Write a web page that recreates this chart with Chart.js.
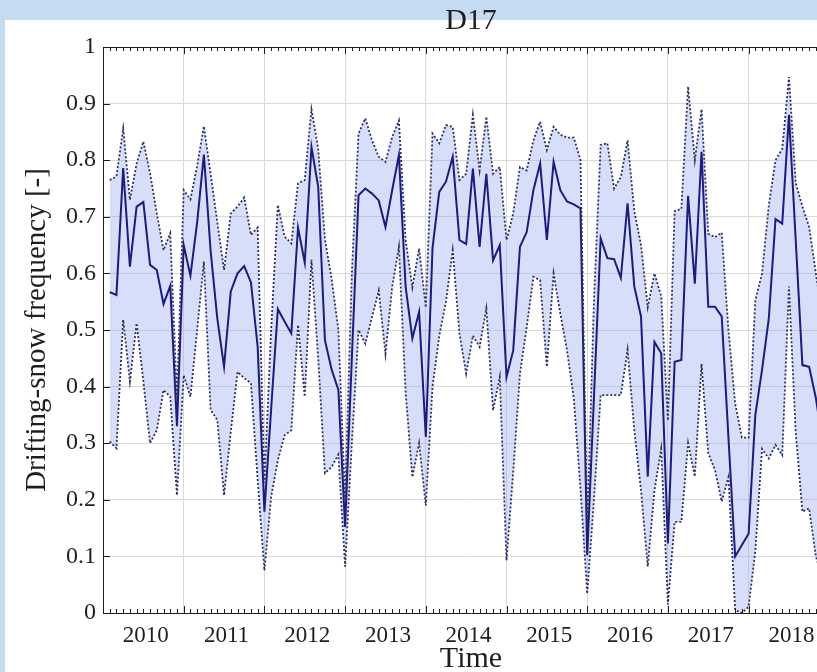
<!DOCTYPE html>
<html>
<head>
<meta charset="utf-8">
<script src="https://cdn.jsdelivr.net/npm/chart.js@4.4.1/dist/chart.umd.min.js"></script>
<style>
  html, body { margin: 0; padding: 0; width: 817px; height: 672px; overflow: hidden; background: #c4dbf1; }
  #paper { position: absolute; left: 5px; top: 20px; right: 0; bottom: 0; background: #ffffff; }
  #wrap { position: absolute; left: 0; top: 0; width: 850px; height: 672px; }
</style>
</head>
<body>
<div id="paper"></div>
<div id="wrap"><canvas id="c"></canvas></div>
<script>
// ---- data (monthly, starting Feb 2010) ----
const startYear = 2010;
const meanFreq = [
  0.567, 0.562, 0.786, 0.612, 0.718, 0.726, 0.615, 0.606, 0.546, 0.578,
  0.330, 0.650, 0.596, 0.690, 0.810, 0.640, 0.520, 0.435, 0.568, 0.600,
  0.613, 0.584, 0.470, 0.179, 0.360, 0.537, 0.515, 0.494, 0.681, 0.619,
  0.823, 0.753, 0.482, 0.430, 0.394, 0.152, 0.450, 0.738, 0.750, 0.741,
  0.729, 0.682, 0.747, 0.809, 0.576, 0.485, 0.532, 0.311, 0.645, 0.744,
  0.762, 0.806, 0.659, 0.652, 0.785, 0.647, 0.776, 0.623, 0.650, 0.417,
  0.464, 0.647, 0.673, 0.747, 0.794, 0.659, 0.797, 0.747, 0.727, 0.722,
  0.715, 0.102, 0.380, 0.662, 0.627, 0.625, 0.592, 0.724, 0.577, 0.524,
  0.241, 0.479, 0.459, 0.123, 0.444, 0.447, 0.737, 0.582, 0.815, 0.541,
  0.541, 0.524, 0.310, 0.100, 0.120, 0.140, 0.350, 0.430, 0.520, 0.696,
  0.688, 0.880, 0.660, 0.438, 0.435, 0.380, 0.300
];
const upperFreq = [
  0.765, 0.771, 0.856, 0.730, 0.794, 0.833, 0.777, 0.706, 0.641, 0.671,
  0.380, 0.747, 0.731, 0.790, 0.860, 0.776, 0.690, 0.606, 0.706, 0.718,
  0.734, 0.668, 0.681, 0.230, 0.500, 0.721, 0.665, 0.653, 0.759, 0.765,
  0.890, 0.820, 0.660, 0.590, 0.500, 0.200, 0.600, 0.847, 0.874, 0.835,
  0.806, 0.797, 0.841, 0.870, 0.659, 0.575, 0.644, 0.540, 0.847, 0.830,
  0.862, 0.859, 0.765, 0.776, 0.880, 0.782, 0.877, 0.776, 0.788, 0.659,
  0.706, 0.788, 0.782, 0.835, 0.868, 0.818, 0.859, 0.845, 0.840, 0.840,
  0.800, 0.150, 0.550, 0.827, 0.830, 0.750, 0.770, 0.835, 0.710, 0.650,
  0.540, 0.600, 0.560, 0.340, 0.710, 0.714, 0.930, 0.800, 0.890, 0.670,
  0.664, 0.672, 0.500, 0.370, 0.310, 0.310, 0.553, 0.600, 0.720, 0.800,
  0.820, 0.947, 0.760, 0.718, 0.682, 0.600, 0.520
];
const lowerFreq = [
  0.303, 0.291, 0.518, 0.409, 0.512, 0.410, 0.300, 0.323, 0.394, 0.382,
  0.208, 0.420, 0.382, 0.500, 0.621, 0.359, 0.341, 0.208, 0.320, 0.426,
  0.415, 0.406, 0.235, 0.075, 0.205, 0.270, 0.314, 0.323, 0.509, 0.382,
  0.624, 0.450, 0.247, 0.258, 0.280, 0.082, 0.300, 0.500, 0.476, 0.523,
  0.570, 0.458, 0.576, 0.647, 0.390, 0.240, 0.300, 0.190, 0.400, 0.490,
  0.550, 0.641, 0.494, 0.423, 0.490, 0.470, 0.538, 0.358, 0.417, 0.093,
  0.250, 0.423, 0.505, 0.594, 0.588, 0.435, 0.600, 0.529, 0.464, 0.380,
  0.220, 0.034, 0.200, 0.385, 0.385, 0.385, 0.385, 0.465, 0.323, 0.217,
  0.082, 0.217, 0.290, 0.015, 0.161, 0.161, 0.300, 0.241, 0.440, 0.282,
  0.253, 0.197, 0.240, 0.005, 0.000, 0.011, 0.110, 0.290, 0.273, 0.297,
  0.279, 0.577, 0.320, 0.179, 0.185, 0.100, 0.060
];
const xTickLabels = ['2010', '2011', '2012', '2013', '2014', '2015', '2016', '2017', '2018'];
const gridYears = [2011, 2012, 2013, 2014, 2015, 2016, 2017, 2018, 2019];
const yTickLabels = ['0', '0.1', '0.2', '0.3', '0.4', '0.5', '0.6', '0.7', '0.8', '0.9', '1'];
const xMin = 2010, xMax = 2019.12;

// time of each monthly value, in decimal years
const timeYears = meanFreq.map((_, i) => startYear + (i + 1) / 12);
const pts = arr => arr.map((v, i) => ({ x: timeYears[i], y: v }));

const SERIF = "'Liberation Serif', 'Times New Roman', serif";
const INK = '#1e1e1e';
const GRID = '#d9d9d9';

const edgeTicks = {
  id: 'edgeTicks',
  afterDraw(chart) {
    const { ctx, chartArea: a, scales } = chart;
    const sx = scales.x, sy = scales.y;
    ctx.save();
    ctx.strokeStyle = INK;
    ctx.lineWidth = 1;
    ctx.beginPath();
    for (let k = 0; k < 200; k++) {
      const v = xMin + k / 12;
      if (v > sx.max) break;
      const px = Math.round(sx.getPixelForValue(v)) + 0.5;
      const len = (k % 12 === 0) ? 7 : 4;
      ctx.moveTo(px, a.bottom); ctx.lineTo(px, a.bottom - len);
      ctx.moveTo(px, a.top); ctx.lineTo(px, a.top + len);
    }
    sy.ticks.forEach(t => {
      const py = Math.round(sy.getPixelForValue(t.value)) + 0.5;
      ctx.moveTo(a.left, py); ctx.lineTo(a.left + 7, py);
    });
    ctx.stroke();
    ctx.restore();
  }
};

new Chart(document.getElementById('c'), {
  type: 'line',
  data: {
    datasets: [
      {
        label: 'upper',
        data: pts(upperFreq),
        borderColor: '#2e2e5e',
        borderWidth: 1.8,
        borderDash: [2, 2],
        pointRadius: 0,
        fill: '+1',
        backgroundColor: 'rgba(150, 168, 242, 0.38)',
        tension: 0
      },
      {
        label: 'lower',
        data: pts(lowerFreq),
        borderColor: '#2e2e5e',
        borderWidth: 1.8,
        borderDash: [2, 2],
        pointRadius: 0,
        fill: false,
        tension: 0
      },
      {
        label: 'mean',
        data: pts(meanFreq),
        borderColor: '#1c1c7c',
        borderWidth: 2,
        pointRadius: 0,
        fill: false,
        tension: 0
      }
    ]
  },
  options: {
    responsive: true,
    maintainAspectRatio: false,
    devicePixelRatio: 1,
    animation: false,
    layout: { padding: { left: 0, right: 11, top: 0, bottom: 0 } },
    plugins: {
      legend: { display: false },
      tooltip: { enabled: false },
      filler: { drawTime: 'beforeDatasetsDraw' }
    },
    scales: {
      x: {
        type: 'linear',
        position: 'bottom',
        min: xMin,
        max: xMax,
        afterBuildTicks: s => { s.ticks = xTickLabels.map(l => ({ value: Number(l) + 0.53 })); },
        afterFit: s => { s.height = 59; },
        ticks: {
          autoSkip: false,
          maxRotation: 0,
          padding: 9,
          color: INK,
          font: { family: SERIF, size: 23 },
          callback: (v, i) => xTickLabels[i]
        },
        grid: { display: true, drawOnChartArea: false, drawTicks: false },
        border: { display: true, color: INK, width: 1 },
        title: {
          display: true,
          text: 'Time',
          color: INK,
          font: { family: SERIF, size: 30, lineHeight: 1 },
          padding: { top: 0, bottom: -2 }
        }
      },
      x2: {
        type: 'linear',
        position: 'top',
        min: xMin,
        max: xMax,
        afterBuildTicks: s => { s.ticks = gridYears.map(v => ({ value: v })); },
        afterFit: s => { s.height = 47; },
        ticks: { display: false },
        grid: { display: true, color: GRID, lineWidth: 1, drawTicks: false },
        border: { display: true, color: INK, width: 1 },
        title: {
          display: true,
          text: 'D17',
          color: INK,
          font: { family: SERIF, size: 30, lineHeight: 1 },
          padding: { top: 6, bottom: 0 }
        }
      },
      y: {
        type: 'linear',
        position: 'left',
        min: 0,
        max: 1,
        afterFit: s => { s.width = 103; },
        ticks: {
          stepSize: 0.1,
          padding: 7,
          color: INK,
          font: { family: SERIF, size: 24 },
          callback: (v, i) => yTickLabels[i]
        },
        grid: { display: true, color: GRID, lineWidth: 1, drawTicks: false },
        border: { display: true, color: INK, width: 1 },
        title: {
          display: true,
          text: 'Drifting-snow frequency [-]',
          color: INK,
          font: { family: SERIF, size: 29, lineHeight: 1 },
          padding: { top: 23, bottom: 0 }
        }
      }
    }
  },
  plugins: [edgeTicks]
});
</script>
</body>
</html>
